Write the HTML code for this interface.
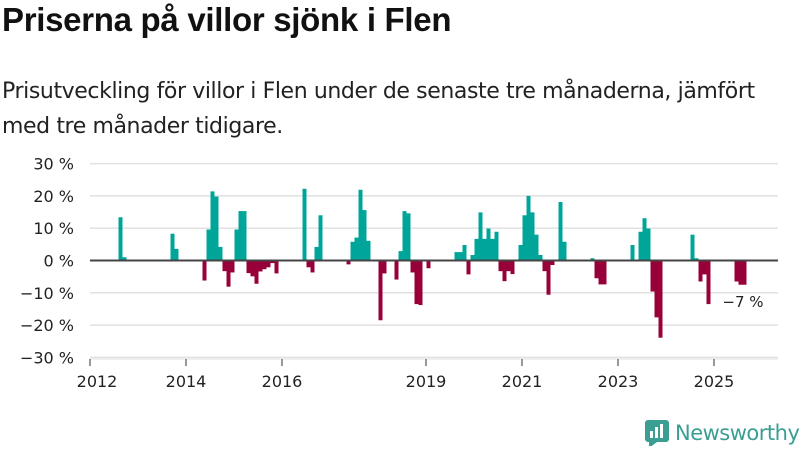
<!DOCTYPE html>
<html><head><meta charset="utf-8"><style>
body{margin:0;width:800px;height:450px;background:#fff;font-family:"Liberation Sans","DejaVu Sans",sans-serif;overflow:hidden;position:relative;color:#111}
h1{position:absolute;left:2px;top:1px;margin:0;font-size:33px;font-weight:bold;letter-spacing:-0.3px}
.sub{position:absolute;left:2px;top:74px;margin:0;font-size:22px;line-height:35px;color:#222;font-family:"DejaVu Sans",sans-serif;letter-spacing:-0.4px}
svg{position:absolute;left:0;top:0}
</style></head><body>
<h1>Priserna på villor sjönk i Flen</h1>
<p class="sub">Prisutveckling för villor i Flen under de senaste tre månaderna, jämfört<br>med tre månader tidigare.</p>
<svg id="chart" width="800" height="450"></svg>
<script>
const months=[7,8,20,21,28,29,30,31,32,33,34,35,36,37,38,39,40,41,42,43,44,45,46,53,54,55,56,57,64,65,66,67,68,69,72,73,76,77,78,79,80,81,82,84,91,92,93,94,95,96,97,98,99,100,101,102,103,104,105,107,108,109,110,111,112,113,114,115,117,118,125,126,127,128,135,137,138,139,140,141,142,150,151,152,153,154,161,162,163];
const values=[13.4,1.0,8.3,3.6,-6.2,9.6,21.4,19.8,4.2,-3.3,-8.1,-3.7,9.6,15.3,15.3,-3.9,-4.9,-7.2,-3.4,-2.7,-2.1,-0.8,-4.0,22.2,-2.1,-3.7,4.2,14.0,-1.2,5.8,7.1,21.9,15.6,6.1,-18.5,-4.0,-5.9,2.9,15.3,14.6,-3.7,-13.5,-13.8,-2.4,2.6,2.6,4.8,-4.3,1.7,6.7,14.9,6.7,9.9,6.7,8.9,-3.3,-6.4,-3.3,-4.2,4.8,14.0,20.0,14.9,8.0,1.7,-3.3,-10.6,-1.4,18.1,5.8,0.7,-5.5,-7.4,-7.4,4.8,8.9,13.1,9.9,-9.6,-17.6,-23.9,8.0,0.7,-6.5,-4.3,-13.5,-6.5,-7.5,-7.5];
const yTicks=[30,20,10,0,-10,-20,-30];
const yTickLabels=["30 %","20 %","10 %","0 %","−10 %","−20 %","−30 %"];
const xTickMonths=[0,24,48,84,108,132,156];
const xTickLabels=["2012","2014","2016","2019","2021","2023","2025"];
const lastLabel="−7 %";
const NS="http://www.w3.org/2000/svg";
const svg=document.getElementById('chart');
const x=m=>90+m*4;
const y=v=>260.5-v*3.23;
function mk(t,a){const e=document.createElementNS(NS,t);for(const k in a)e.setAttribute(k,a[k]);svg.appendChild(e);return e;}
yTicks.forEach((t,i)=>{
  if(t!==0){const g=mk('line',{x1:90,x2:778,y1:y(t),y2:y(t),stroke:'#e1e1e1','stroke-width':1.5});
  
  }
  const l=mk('text',{x:74,y:y(t)+6,'text-anchor':'end','font-size':16,fill:'#222','font-family':'DejaVu Sans, sans-serif'});
  l.textContent=yTickLabels[i];
  
  
});
months.forEach((m,i)=>{
  const v=values[i];
  const r=mk('rect',{x:x(m)+0.5,width:4,y:v>=0?y(v):y(0),height:Math.abs(y(v)-y(0)),fill:v>=0?'#00a59a':'#98003a'});
  
  
});
const z=mk('line',{x1:90,x2:778,y1:y(0),y2:y(0),stroke:'#444','stroke-width':2});


const ax=mk('line',{x1:90,x2:778,y1:359,y2:359,stroke:'#e1e1e1','stroke-width':1});
xTickMonths.forEach((m,i)=>{
  const tk=mk('line',{x1:x(m),x2:x(m),y1:359,y2:366,stroke:'#333','stroke-width':1});
  
  
  const l=mk('text',{x:x(m)+(i===0?7:0),y:387,'text-anchor':'middle','font-size':16,fill:'#222','font-family':'DejaVu Sans, sans-serif'});
  l.textContent=xTickLabels[i];
  
  
});
const lm=months[months.length-1];
const ll=mk('text',{x:x(lm)+1,y:y(-12.5)+6,'text-anchor':'middle','font-size':15,fill:'#222','font-family':'DejaVu Sans, sans-serif'});
ll.textContent=lastLabel;


</script>
<div style="position:absolute;left:645px;top:420px;display:flex;align-items:center;gap:6px">
<svg width="24" height="26" style="position:static"><rect x="0" y="0" width="24" height="22" rx="3" fill="#3a9e93"/><polygon points="4,22 12,22 4,28" fill="#3a9e93"/><rect x="5" y="11" width="3" height="7" fill="#fff"/><rect x="10" y="7" width="3" height="11" fill="#fff"/><rect x="15" y="4" width="3" height="14" fill="#fff"/></svg>
<span style="font-size:21px;color:#3a9e93;font-family:'DejaVu Sans',sans-serif;letter-spacing:-0.5px">Newsworthy</span></div>
</body></html>
